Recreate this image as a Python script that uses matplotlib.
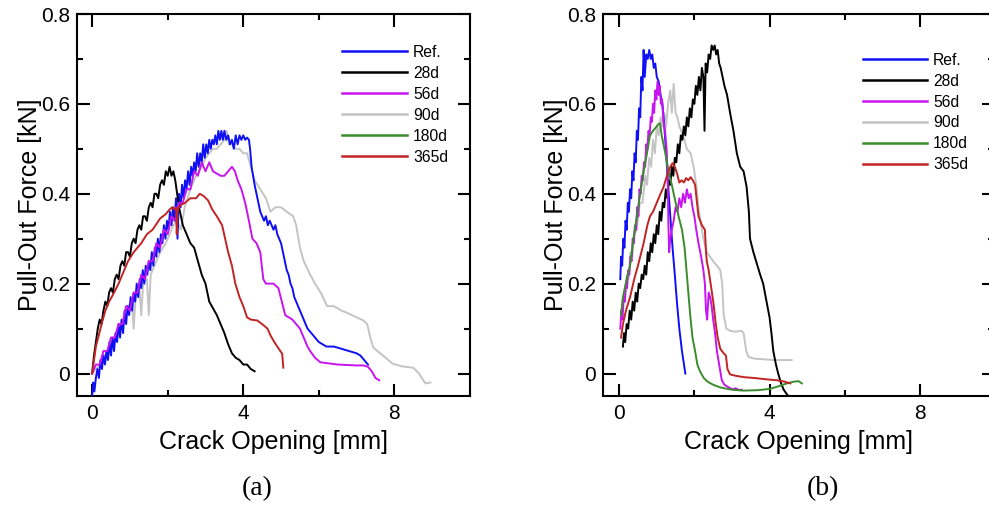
import matplotlib
matplotlib.use("Agg")
import matplotlib.pyplot as plt
from matplotlib.ticker import MultipleLocator

plt.rcParams['font.family'] = ['Liberation Sans', 'DejaVu Sans']

labels = ["Ref.", "28d", "56d", "90d", "180d", "365d"]
colors = ["#1010f5", "#000000", "#c814f0", "#c4c4c4", "#3a8c2c", "#c02424"]

# ---------------- panel (a) ----------------
A_ref_x = [0.00,0.03,0.06,0.10,0.14,0.18,0.22,0.26,0.30,0.34,0.38,0.42,0.46,0.50,0.54,0.58,0.62,0.66,0.70,0.74,
           0.78,0.82,0.86,0.90,0.94,0.98,1.02,1.06,1.10,1.14,1.18,1.22,1.26,1.30,1.34,1.38,1.42,1.46,1.50,1.54,
           1.58,1.62,1.66,1.70,1.74,1.78,1.82,1.86,1.90,1.94,1.98,2.02,2.06,2.10,2.14,2.18,2.22,2.26,2.30,2.34,
           2.38,2.42,2.46,2.50,2.54,2.58,2.62,2.66,2.70,2.74,2.78,2.82,2.86,2.90,2.94,2.98,3.02,3.06,3.10,3.14,
           3.18,3.22,3.26,3.30,3.34,3.38,3.42,3.46,3.50,3.55,3.60,3.65,3.70,3.75,3.80,3.85,3.90,3.95,4.00,4.05,
           4.10,4.15,4.18,4.22,4.26,4.30,4.35,4.40,4.45,4.50,4.55,4.60,4.65,4.70,4.75,4.80,4.85,4.90,4.95,5.00,
           5.05,5.10,5.15,5.20,5.25,5.30,5.35,5.40,5.45,5.50,5.60,5.70,5.80,5.90,6.00,6.10,6.20,6.40,6.60,6.80,
           7.00,7.10,7.20,7.30]
A_ref_y = [-0.05,-0.02,-0.04,-0.01,0.01,-0.01,0.03,0.01,0.04,0.02,0.05,0.03,0.07,0.04,0.08,0.05,0.09,0.07,0.11,0.08,
           0.12,0.09,0.14,0.11,0.15,0.13,0.17,0.14,0.18,0.16,0.20,0.17,0.21,0.19,0.23,0.20,0.24,0.22,0.25,0.23,
           0.27,0.24,0.28,0.26,0.30,0.27,0.31,0.29,0.33,0.30,0.34,0.32,0.36,0.33,0.37,0.34,0.39,0.30,0.40,0.37,
           0.42,0.39,0.43,0.41,0.45,0.42,0.46,0.44,0.47,0.45,0.49,0.46,0.49,0.47,0.51,0.48,0.51,0.49,0.52,0.50,
           0.52,0.51,0.53,0.51,0.54,0.52,0.54,0.52,0.54,0.52,0.53,0.51,0.52,0.50,0.53,0.51,0.53,0.52,0.53,0.52,
           0.525,0.52,0.50,0.46,0.44,0.42,0.40,0.38,0.36,0.35,0.34,0.35,0.33,0.34,0.33,0.32,0.33,0.31,0.30,0.29,
           0.27,0.25,0.23,0.22,0.20,0.19,0.17,0.16,0.15,0.14,0.12,0.10,0.09,0.08,0.07,0.065,0.06,0.06,0.055,0.05,
           0.045,0.04,0.03,0.02]

A_28d_x = [0.00,0.05,0.10,0.15,0.20,0.25,0.30,0.35,0.40,0.45,0.50,0.55,0.60,0.65,0.70,0.75,0.80,0.85,0.90,0.95,
           1.00,1.05,1.10,1.15,1.20,1.25,1.30,1.35,1.40,1.45,1.50,1.55,1.60,1.65,1.70,1.75,1.80,1.85,1.90,1.95,
           2.00,2.05,2.10,2.15,2.20,2.30,2.40,2.50,2.60,2.70,2.80,2.90,3.00,3.10,3.20,3.30,3.40,3.50,3.60,3.70,
           3.80,3.90,4.00,4.10,4.20,4.30]
A_28d_y = [0.00,0.04,0.07,0.10,0.12,0.11,0.14,0.16,0.15,0.18,0.19,0.18,0.21,0.22,0.21,0.24,0.25,0.24,0.27,0.27,
           0.26,0.29,0.30,0.29,0.32,0.33,0.32,0.35,0.35,0.34,0.37,0.38,0.37,0.40,0.40,0.39,0.42,0.43,0.42,0.45,
           0.44,0.46,0.44,0.45,0.43,0.37,0.33,0.31,0.29,0.28,0.25,0.22,0.20,0.16,0.145,0.13,0.11,0.09,0.065,0.045,
           0.035,0.03,0.02,0.02,0.01,0.005]

A_56d_x = [0.00,0.10,0.20,0.30,0.40,0.50,0.60,0.70,0.80,0.90,1.00,1.10,1.20,1.30,1.40,1.50,1.60,1.70,1.80,1.90,
           2.00,2.10,2.20,2.30,2.40,2.50,2.60,2.70,2.80,2.90,3.00,3.10,3.20,3.30,3.40,3.50,3.60,3.70,3.78,3.85,
           3.95,4.05,4.15,4.24,4.35,4.45,4.53,4.60,4.70,4.80,4.93,5.02,5.11,5.30,5.50,5.60,5.70,5.77,5.90,6.04,
           6.50,7.00,7.18,7.30,7.40,7.50,7.60]
A_56d_y = [0.00,0.02,0.02,0.05,0.05,0.08,0.08,0.11,0.11,0.15,0.14,0.18,0.18,0.22,0.21,0.25,0.25,0.29,0.28,0.32,
           0.31,0.35,0.34,0.38,0.38,0.41,0.41,0.45,0.44,0.47,0.45,0.47,0.45,0.445,0.44,0.44,0.45,0.46,0.45,0.43,
           0.41,0.38,0.34,0.30,0.29,0.27,0.21,0.20,0.20,0.20,0.19,0.16,0.13,0.12,0.10,0.08,0.06,0.05,0.035,0.025,
           0.02,0.018,0.018,0.015,0.005,-0.01,-0.015]

A_90d_x = [0.00,0.20,0.40,0.60,0.80,0.95,1.05,1.10,1.15,1.25,1.30,1.35,1.45,1.50,1.55,1.65,1.80,1.95,2.05,2.15,
           2.25,2.35,2.45,2.60,2.75,2.90,3.00,3.10,3.20,3.30,3.40,3.50,3.56,3.62,3.70,3.80,3.90,4.00,4.10,4.20,
           4.30,4.45,4.60,4.72,4.85,5.00,5.15,5.32,5.40,5.50,5.60,5.77,5.90,6.05,6.22,6.40,6.60,6.75,7.00,7.18,
           7.28,7.36,7.44,7.55,7.70,7.95,8.20,8.50,8.65,8.82,8.95]
A_90d_y = [0.00,0.02,0.05,0.08,0.11,0.15,0.16,0.10,0.17,0.19,0.13,0.20,0.21,0.13,0.22,0.24,0.27,0.29,0.31,0.33,
           0.34,0.32,0.37,0.41,0.44,0.46,0.48,0.49,0.50,0.50,0.51,0.52,0.54,0.51,0.51,0.50,0.50,0.49,0.49,0.46,
           0.43,0.41,0.39,0.36,0.37,0.37,0.36,0.35,0.33,0.28,0.25,0.22,0.20,0.18,0.15,0.15,0.14,0.135,0.125,0.118,
           0.11,0.08,0.058,0.05,0.04,0.022,0.016,0.013,0.0,-0.022,-0.02]

A_180d_x = []
A_180d_y = []

A_365d_x = [0.00,0.05,0.10,0.16,0.25,0.35,0.45,0.55,0.70,0.85,0.95,1.10,1.30,1.45,1.60,1.80,1.95,2.05,2.12,2.18,
            2.22,2.24,2.26,2.35,2.46,2.60,2.75,2.85,2.95,3.07,3.18,3.30,3.44,3.52,3.60,3.70,3.79,3.90,4.00,4.10,
            4.20,4.37,4.50,4.64,4.72,4.80,4.90,5.03,5.06]
A_365d_y = [0.00,0.03,0.06,0.08,0.11,0.14,0.16,0.175,0.20,0.23,0.25,0.27,0.29,0.31,0.32,0.345,0.355,0.365,0.37,0.365,
            0.37,0.31,0.365,0.375,0.38,0.39,0.39,0.40,0.395,0.385,0.365,0.35,0.33,0.30,0.27,0.24,0.20,0.17,0.15,0.125,
            0.12,0.118,0.11,0.10,0.085,0.073,0.06,0.044,0.013]

# ---------------- panel (b) ----------------
B_ref_x = [0.03,0.05,0.08,0.11,0.14,0.17,0.20,0.23,0.26,0.29,0.32,0.35,0.38,0.41,0.44,0.47,0.50,0.53,0.56,0.59,
           0.62,0.65,0.68,0.72,0.76,0.80,0.84,0.88,0.92,0.96,1.00,1.05,1.10,1.15,1.20,1.25,1.30,1.36,1.42,1.48,
           1.54,1.60,1.67,1.76]
B_ref_y = [0.21,0.26,0.24,0.30,0.28,0.34,0.32,0.38,0.36,0.41,0.39,0.45,0.43,0.49,0.47,0.54,0.52,0.59,0.57,0.66,
           0.63,0.72,0.66,0.71,0.70,0.72,0.70,0.71,0.68,0.69,0.66,0.65,0.62,0.60,0.55,0.49,0.42,0.35,0.28,0.22,
           0.155,0.10,0.05,0.00]

B_28d_x = [0.10,0.13,0.16,0.20,0.24,0.28,0.32,0.36,0.40,0.44,0.48,0.52,0.56,0.60,0.64,0.68,0.72,0.76,0.80,0.84,
           0.88,0.92,0.96,1.00,1.04,1.08,1.12,1.16,1.20,1.24,1.28,1.32,1.36,1.40,1.44,1.48,1.52,1.56,1.60,1.64,
           1.68,1.72,1.76,1.80,1.84,1.88,1.92,1.96,2.00,2.04,2.08,2.12,2.16,2.20,2.24,2.27,2.30,2.34,2.38,2.42,
           2.46,2.50,2.54,2.58,2.62,2.66,2.70,2.75,2.80,2.87,2.95,3.04,3.13,3.22,3.31,3.39,3.45,3.48,3.57,3.66,
           3.75,3.83,3.92,4.00,4.05,4.10,4.17,4.23,4.30,4.37,4.45,4.50]
B_28d_y = [0.06,0.09,0.07,0.11,0.10,0.14,0.12,0.16,0.14,0.18,0.16,0.20,0.19,0.22,0.21,0.24,0.22,0.27,0.25,0.29,
           0.27,0.31,0.29,0.33,0.31,0.36,0.34,0.38,0.37,0.41,0.39,0.43,0.42,0.46,0.44,0.48,0.47,0.51,0.49,0.53,
           0.52,0.55,0.53,0.57,0.55,0.59,0.57,0.61,0.60,0.64,0.62,0.66,0.63,0.68,0.66,0.54,0.69,0.67,0.71,0.70,
           0.73,0.72,0.73,0.71,0.72,0.69,0.68,0.66,0.64,0.62,0.58,0.54,0.49,0.46,0.45,0.415,0.36,0.30,0.27,0.245,
           0.22,0.20,0.16,0.125,0.09,0.05,0.02,0.00,-0.02,-0.035,-0.045,-0.05]

B_56d_x = [0.03,0.06,0.09,0.12,0.15,0.18,0.21,0.24,0.27,0.30,0.33,0.36,0.39,0.42,0.45,0.48,0.51,0.54,0.57,0.60,
           0.63,0.66,0.69,0.72,0.75,0.78,0.81,0.84,0.87,0.90,0.93,0.96,0.99,1.02,1.05,1.08,1.11,1.14,1.18,1.22,
           1.26,1.29,1.31,1.33,1.36,1.40,1.45,1.50,1.55,1.60,1.65,1.70,1.75,1.80,1.85,1.90,1.95,2.00,2.05,2.11,
           2.18,2.24,2.28,2.31,2.34,2.38,2.42,2.46,2.50,2.55,2.60,2.66,2.73,2.80,2.90,3.00,3.10,3.20,3.26]
B_56d_y = [0.10,0.14,0.12,0.17,0.16,0.20,0.19,0.23,0.22,0.26,0.25,0.30,0.29,0.33,0.32,0.37,0.35,0.41,0.40,0.44,
           0.43,0.47,0.46,0.51,0.50,0.54,0.53,0.57,0.56,0.60,0.58,0.63,0.61,0.65,0.62,0.64,0.60,0.61,0.56,0.54,
           0.50,0.44,0.33,0.27,0.30,0.32,0.34,0.37,0.36,0.39,0.37,0.40,0.38,0.41,0.39,0.40,0.37,0.35,0.32,0.29,
           0.26,0.23,0.20,0.14,0.12,0.18,0.17,0.15,0.12,0.09,0.05,0.02,-0.015,-0.025,-0.03,-0.035,-0.033,-0.037,-0.036]

B_90d_x = [0.05,0.10,0.15,0.20,0.25,0.30,0.35,0.40,0.47,0.55,0.62,0.70,0.74,0.80,0.85,0.90,0.95,1.00,1.05,1.10,
           1.15,1.20,1.25,1.30,1.36,1.40,1.45,1.50,1.55,1.60,1.70,1.80,1.90,1.98,2.05,2.11,2.18,2.24,2.33,2.42,
           2.50,2.60,2.69,2.74,2.78,2.85,2.95,3.10,3.25,3.31,3.38,3.44,3.60,3.80,4.10,4.40,4.59]
B_90d_y = [0.13,0.17,0.16,0.22,0.21,0.27,0.26,0.31,0.32,0.38,0.38,0.44,0.42,0.48,0.46,0.52,0.49,0.55,0.53,0.57,
           0.55,0.58,0.55,0.60,0.63,0.58,0.645,0.58,0.57,0.55,0.53,0.50,0.49,0.46,0.42,0.37,0.33,0.30,0.27,0.26,
           0.25,0.24,0.23,0.20,0.13,0.10,0.095,0.093,0.095,0.09,0.05,0.037,0.033,0.032,0.03,0.03,0.03]

B_180d_x = [0.05,0.10,0.20,0.29,0.38,0.47,0.56,0.65,0.74,0.82,0.90,1.00,1.05,1.09,1.13,1.18,1.25,1.31,1.40,1.49,
            1.58,1.67,1.74,1.80,1.85,1.89,1.95,2.02,2.08,2.15,2.25,2.35,2.50,2.69,3.00,3.31,3.70,4.02,4.25,4.46,
            4.65,4.77,4.86]
B_180d_y = [0.13,0.17,0.21,0.24,0.30,0.35,0.40,0.45,0.49,0.53,0.54,0.55,0.556,0.556,0.53,0.51,0.48,0.45,0.42,0.385,
            0.35,0.32,0.28,0.22,0.17,0.13,0.08,0.05,0.02,0.005,-0.01,-0.018,-0.025,-0.031,-0.036,-0.038,-0.037,-0.034,-0.028,-0.022,
            -0.018,-0.017,-0.022]

B_365d_x = [0.05,0.10,0.18,0.29,0.40,0.50,0.56,0.65,0.75,0.82,0.90,1.00,1.10,1.18,1.27,1.36,1.42,1.48,1.54,1.60,
            1.66,1.72,1.78,1.84,1.90,1.96,2.02,2.07,2.11,2.20,2.28,2.31,2.33,2.38,2.45,2.51,2.57,2.62,2.69,2.78,
            2.84,2.88,2.95,3.10,3.31,3.60,3.93,4.20,4.40,4.55]
B_365d_y = [0.08,0.11,0.14,0.17,0.21,0.24,0.26,0.29,0.33,0.35,0.36,0.38,0.40,0.415,0.44,0.46,0.468,0.46,0.445,0.425,
            0.43,0.425,0.435,0.43,0.437,0.43,0.42,0.38,0.35,0.33,0.32,0.27,0.25,0.23,0.19,0.155,0.11,0.08,0.055,0.045,
            0.04,0.01,-0.002,-0.005,-0.008,-0.01,-0.013,-0.015,-0.018,-0.022]

A_series = [(A_ref_x, A_ref_y), (A_28d_x, A_28d_y), (A_56d_x, A_56d_y),
            (A_90d_x, A_90d_y), (A_180d_x, A_180d_y), (A_365d_x, A_365d_y)]
B_series = [(B_ref_x, B_ref_y), (B_28d_x, B_28d_y), (B_56d_x, B_56d_y),
            (B_90d_x, B_90d_y), (B_180d_x, B_180d_y), (B_365d_x, B_365d_y)]

x_ticks = [0, 4, 8]
y_ticks = [0, 0.2, 0.4, 0.6, 0.8]
y_ticklabels = ["0", "0.2", "0.4", "0.6", "0.8"]

W, H = 989, 507
fig = plt.figure(figsize=(W / 100, H / 100), dpi=100)

draw_order = [3, 0, 1, 2, 4, 5]


def make_panel(rect, series, xlim, leg_anchor):
    ax = fig.add_axes(rect)
    handles = [None] * len(series)
    for i in draw_order:
        xs, ys = series[i]
        ln, = ax.plot(xs, ys, color=colors[i], lw=1.4, label=labels[i], zorder=2 + draw_order.index(i))
        handles[i] = ln
    ax.set_xlim(*xlim)
    ax.set_ylim(-0.05, 0.8)
    ax.set_xticks(x_ticks)
    ax.set_xticklabels([str(t) for t in x_ticks])
    ax.xaxis.set_minor_locator(MultipleLocator(2))
    ax.set_yticks(y_ticks)
    ax.set_yticklabels(y_ticklabels)
    ax.yaxis.set_minor_locator(MultipleLocator(0.1))
    ax.tick_params(which='both', direction='in', top=True, right=True, width=1.5)
    ax.tick_params(which='major', length=9, labelsize=15)
    ax.tick_params(which='minor', length=4.5)
    ax.tick_params(axis='x', which='major', pad=6)
    ax.tick_params(axis='y', which='major', pad=5)
    for s in ax.spines.values():
        s.set_linewidth(1.5)
    ax.set_xlabel("Crack Opening [mm]", fontsize=18, labelpad=5)
    ax.set_ylabel("Pull-Out Force [kN]", fontsize=18, labelpad=-1)
    leg = ax.legend(handles=handles, labels=labels, loc='upper left', bbox_to_anchor=leg_anchor,
                    frameon=False, fontsize=11.3, handlelength=4.1, handletextpad=0.4,
                    labelspacing=0.38, borderpad=0, borderaxespad=0)
    for h in leg.get_lines():
        h.set_linewidth(1.8)
    return ax


axA = make_panel([77 / W, 1 - 396 / H, 393 / W, 382 / H], A_series, (-0.4, 10.0), (0.675, 0.919))
axB = make_panel([603 / W, 1 - 396 / H, 391 / W, 382 / H], B_series, (-0.43, 9.97), (0.664, 0.899))

fig.text(257 / W, 1 - 489 / H, "(a)", ha='center', va='center', fontsize=20,
         family=['Liberation Serif', 'DejaVu Serif'])
fig.text(823 / W, 1 - 489 / H, "(b)", ha='center', va='center', fontsize=20,
         family=['Liberation Serif', 'DejaVu Serif'])

fig.savefig("out.png", dpi=100)
